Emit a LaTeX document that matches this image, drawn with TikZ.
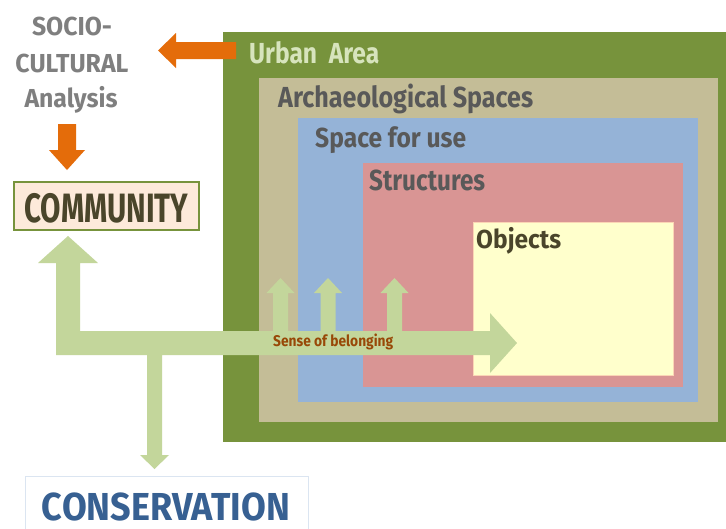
\documentclass[tikz,border=0pt]{standalone}
\usepackage{fontspec}
\setmainfont{Fira Sans}
\usepackage{graphicx}
\definecolor{cgreen}{HTML}{77933C}
\definecolor{ctan}{HTML}{C4BD97}
\definecolor{cblue}{HTML}{95B3D7}
\definecolor{cred}{HTML}{D99594}
\definecolor{cyellow}{HTML}{FFFFCC}
\definecolor{cpeach}{HTML}{FBD5B5}
\definecolor{cpeachfill}{HTML}{FDEADA}
\definecolor{arrowgreen}{HTML}{C3D69B}
\definecolor{corange}{HTML}{E46C0A}
\definecolor{cgreytext}{HTML}{7F7F7F}
\definecolor{cdarktext}{HTML}{595959}
\definecolor{cuatext}{HTML}{D7E4BD}
\definecolor{colive}{HTML}{4A452A}
\definecolor{cconsblue}{HTML}{376092}
\definecolor{cconsborder}{HTML}{DBE5F1}
\definecolor{cbrown}{HTML}{984807}
\newsavebox\fitbox
\newcommand\fitto[2]{\sbox\fitbox{#2}\pgfmathsetmacro\fitratio{#1/\the\wd\fitbox}\scalebox{\fitratio}[1]{\usebox\fitbox}}
\newcommand\fsz[1]{\fontsize{#1}{#1}\selectfont\bfseries}
\begin{document}
\begin{tikzpicture}[x=1pt,y=-1pt,
  lbl/.style={inner sep=0pt, anchor=base west},
  clbl/.style={inner sep=0pt, anchor=base},
  blockarrow/.style={fill=arrowgreen, draw=none},
  orangearrow/.style={fill=corange, draw=none}]
\clip (0,0) rectangle (726,528);
\fill[white] (0,0) rectangle (726,528);
% nested areas
\fill[cgreen] (223,32) rectangle (726,442);
\fill[ctan] (259,78) rectangle (718,422);
\fill[cblue] (298,118) rectangle (698,402);
\fill[cred] (363,163) rectangle (683,387);
\filldraw[fill=cyellow, draw=cpeach, line width=1pt] (473.5,222.5) rectangle (673,375);
% labels of areas
\node[lbl, text=cuatext] (urban) at (249,63) {\fitto{130}{\fsz{29}Urban\ \ Area}};
\node[lbl, text=cdarktext] (arch) at (278,107) {\fitto{255}{\fsz{29}Archaeological Spaces}};
\node[lbl, text=cdarktext] (space) at (315,147) {\fitto{151}{\fsz{27.5}Space for use}};
\node[lbl, text=cdarktext] (struct) at (369,190) {\fitto{116}{\fsz{29}Structures}};
\node[lbl, text=colive] (objects) at (476,248) {\fitto{85}{\fsz{26}Objects}};
% left texts
\node[clbl, text=cgreytext] (socio) at (72,35) {\fitto{80}{\fsz{26}SOCIO-}};
\node[clbl, text=cgreytext] (cultural) at (72,72) {\fitto{113}{\fsz{26}CULTURAL}};
\node[clbl, text=cgreytext] (analysis) at (71,107) {\fitto{93}{\fsz{26}Analysis}};
% community box
\node[draw=cgreen, fill=cpeachfill, line width=2pt, minimum width=185pt, minimum height=48pt, inner sep=0pt] (community) at (106.5,206) {};
\node[clbl, text=colive] (communitytxt) at (106.5,222) {\fitto{164}{\fsz{41}COMMUNITY}};
% conservation box
\draw[cconsborder, line width=1pt] (25.5,476.5) rectangle (308,540);
\node[clbl, text=cconsblue] (conservation) at (166,520) {\fitto{248}{\fsz{39}CONSERVATION}};
% orange arrows
\fill[orangearrow] (236,42) -- (176,42) -- (176,33) -- (158,50.5) -- (176,68) -- (176,59) -- (236,59) -- cycle;
\fill[orangearrow] (58,124) -- (76,124) -- (76,150) -- (85,150) -- (67,170) -- (49,150) -- (58,150) -- cycle;
% green block arrows
\fill[blockarrow] (56,263) -- (38,263) -- (68,236) -- (98,263) -- (80,263) -- (80,331)
  -- (490,331) -- (490,313) -- (517,343) -- (490,373) -- (490,355)
  -- (162,355) -- (162,455) -- (169,455) -- (154.5,469) -- (140,455) -- (147,455) -- (147,355)
  -- (56,355) -- cycle;
\foreach \c in {280.5,328,394.5}{
  \fill[blockarrow] ({\c-7.5},332) -- ({\c-7.5},293) -- ({\c-14},293) -- (\c,278) -- ({\c+14},293) -- ({\c+7.5},293) -- ({\c+7.5},332) -- cycle;
}
\node[lbl, text=cbrown] (belonging) at (273,346) {\fitto{120}{\fsz{15.5}Sense of belonging}};
\end{tikzpicture}
\end{document}
